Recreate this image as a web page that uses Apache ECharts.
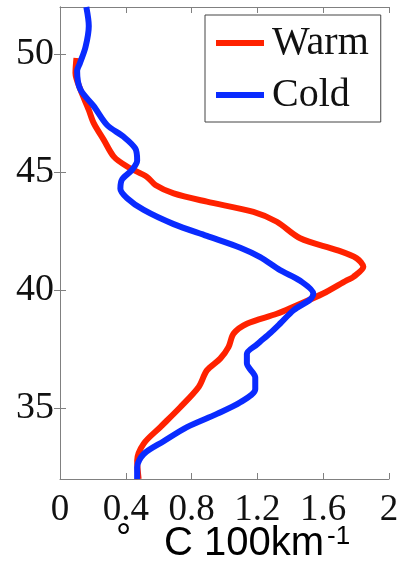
<!DOCTYPE html>
<html>
<head>
<meta charset="utf-8">
<script src="https://cdn.jsdelivr.net/npm/echarts@6/dist/echarts.min.js"></script>
<style>
html, body { margin: 0; padding: 0; background: #fff; }
#main { width: 403px; height: 562px; }
</style>
</head>
<body>
<div id="main"></div>
<script>
// 读图得到的剖面数据 (x: 梯度, y: 纬度)
var warmX = [0.10, 0.094, 0.124, 0.175, 0.205, 0.266, 0.327, 0.408, 0.529, 0.58, 0.691, 0.893, 1.176, 1.318, 1.46, 1.683, 1.804, 1.844, 1.783, 1.743, 1.60, 1.42, 1.318, 1.136, 1.055, 1.025, 0.974, 0.893, 0.843, 0.731, 0.61, 0.509, 0.469, 0.478];
var warmY = [49.84, 49.2, 48.5, 47.64, 47.08, 46.37, 45.66, 45.24, 44.8, 44.46, 44.1, 43.75, 43.32, 42.9, 42.2, 41.7, 41.35, 40.99, 40.56, 40.42, 39.86, 39.3, 39.0, 38.58, 38.16, 37.6, 37.1, 36.6, 35.9, 35.04, 34.2, 33.5, 32.78, 32.0];
var coldX = [0.16, 0.175, 0.155, 0.12, 0.104, 0.124, 0.205, 0.286, 0.387, 0.458, 0.469, 0.438, 0.378, 0.367, 0.408, 0.509, 0.691, 0.893, 1.096, 1.217, 1.338, 1.46, 1.54, 1.52, 1.42, 1.34, 1.28, 1.197, 1.136, 1.136, 1.187, 1.187, 1.096, 0.954, 0.772, 0.63, 0.509, 0.469, 0.469];
var coldY = [52.0, 51.2, 50.3, 49.6, 49.3, 48.5, 47.8, 47.0, 46.5, 46.0, 45.5, 45.1, 44.7, 44.3, 43.9, 43.4, 42.8, 42.3, 41.8, 41.4, 40.85, 40.4, 39.86, 39.6, 39.15, 38.6, 38.2, 37.7, 37.3, 36.9, 36.3, 35.8, 35.25, 34.76, 34.2, 33.6, 33.06, 32.5, 32.0];
var yTicks = [35, 40, 45, 50];
var seriesNames = ['Warm', 'Cold'];

function pairs(xs, ys) {
    var out = [];
    for (var i = 0; i < xs.length; i++) out.push([xs[i], ys[i]]);
    return out;
}

var axisGray = '#808080';
var serif = '"Liberation Serif", "DejaVu Serif", serif';

var myChart = echarts.init(document.getElementById('main'));
var option = {
    animation: false,
    grid: { left: 60, right: 14, top: 7, bottom: 83 },
    legend: {
        data: seriesNames,
        orient: 'vertical',
        left: 205, top: 15,
        icon: 'rect',
        itemWidth: 48, itemHeight: 6,
        itemGap: 12,
        padding: [8, 12, 7, 11],
        borderColor: '#444', borderWidth: 1,
        backgroundColor: '#fff',
        textStyle: { fontFamily: serif, fontSize: 40, lineHeight: 40, color: '#111', padding: [0, 0, 0, 3] }
    },
    xAxis: [{
        type: 'value', min: 0, max: 2, interval: 0.4,
        axisLine: { show: true, lineStyle: { color: axisGray } },
        axisTick: { inside: true, length: 6, lineStyle: { color: axisGray } },
        axisLabel: { fontFamily: serif, fontSize: 37, color: '#111', margin: 13 },
        splitLine: { show: false }
    }, {
        type: 'value', min: 0, max: 2, interval: 0.4, position: 'top',
        axisLine: { show: true, lineStyle: { color: axisGray } },
        axisTick: { inside: true, length: 6, lineStyle: { color: axisGray } },
        axisLabel: { show: false },
        splitLine: { show: false }
    }],
    yAxis: [{
        type: 'value', min: 32, max: 52,
        axisLine: { show: true, lineStyle: { color: axisGray } },
        axisTick: { inside: true, length: 6, customValues: yTicks, lineStyle: { color: axisGray } },
        axisLabel: { fontFamily: serif, fontSize: 38, color: '#111', margin: 6, customValues: yTicks },
        splitLine: { show: false }
    }, {
        type: 'value', min: 32, max: 52, position: 'right',
        axisLine: { show: true, lineStyle: { color: axisGray } },
        axisTick: { inside: true, length: 6, customValues: yTicks, lineStyle: { color: axisGray } },
        axisLabel: { show: false },
        splitLine: { show: false }
    }],
    series: [{
        name: 'Warm', type: 'line', smooth: 0.3, showSymbol: false,
        color: '#ff2200',
        lineStyle: { width: 6, color: '#ff2200' },
        data: pairs(warmX, warmY)
    }, {
        name: 'Cold', type: 'line', smooth: 0.3, showSymbol: false,
        color: '#0a2bff',
        lineStyle: { width: 6, color: '#0a2bff' },
        data: pairs(coldX, coldY)
    }],
    graphic: [
        { type: 'text', left: 116, top: 521, style: { text: '°', font: '38px "Liberation Sans", sans-serif', fill: '#000' } },
        { type: 'text', left: 164, top: 524, style: { text: 'C 100km', font: '40px "Liberation Sans", sans-serif', fill: '#000' } },
        { type: 'text', left: 327, top: 524, style: { text: '-1', font: '26px "Liberation Sans", sans-serif', fill: '#000' } }
    ]
};
myChart.setOption(option);
</script>
</body>
</html>
